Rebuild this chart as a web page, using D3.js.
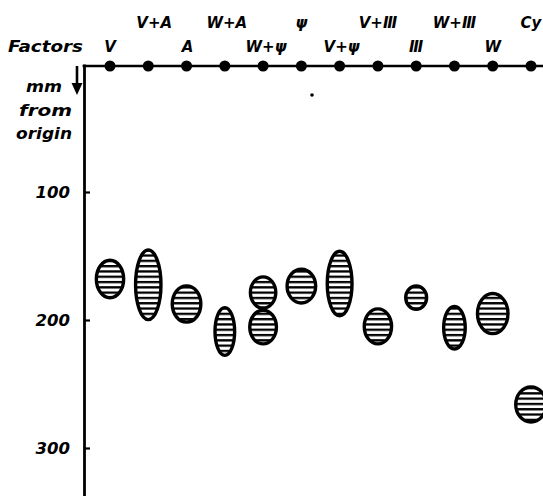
<!DOCTYPE html>
<html>
<head>
<meta charset="utf-8">
<script src="https://cdn.jsdelivr.net/npm/d3@7"></script>
<style>
  html, body { margin: 0; padding: 0; background: #fff; }
  svg { display: block; }
  text { font-family: "DejaVu Sans", sans-serif; font-weight: bold; font-style: italic; fill: #000; }
</style>
</head>
<body>
<svg id="chart" width="543" height="496"></svg>
<script>
// ---- data ----
const factors = ["V", "V+A", "A", "W+A", "W+ψ", "ψ", "V+ψ", "V+Ⅲ", "Ⅲ", "W+Ⅲ", "W", "Cy"];
const upperRow = ["V+A", "W+A", "ψ", "V+Ⅲ", "W+Ⅲ", "Cy"];
const lowerRow = ["V", "A", "W+ψ", "V+ψ", "Ⅲ", "W"];
// spots: lane, front and rear of spot (mm from origin), spot width (mm)
const spotLane  = ["V", "V+A", "A", "W+A", "W+ψ", "W+ψ", "ψ", "V+ψ", "V+Ⅲ", "Ⅲ", "W+Ⅲ", "W", "Cy"];
const spotFront = [152, 144, 172, 189, 165, 191, 159, 145, 190, 172, 188, 178, 251];
const spotRear  = [184, 201, 203, 229, 192, 220, 188, 198, 220, 193, 224, 212, 281];
const spotWidth = [24, 22.5, 25, 18, 22.5, 23.5, 25, 22, 24, 19, 19.5, 26.5, 26.5];
const yTicks = [100, 200, 300];

// ---- layout ----
const svg = d3.select("#chart");
const axisX = 84;
const y = d3.scaleLinear().domain([0, 340]).range([64, 499.2]);
const x = d3.scalePoint().domain(factors).range([110, 531]);
const labelShift = { "V+A": 6, "W+A": 2, "W+ψ": 3, "V+ψ": 2, "A": 1 };

// hatch pattern
const defs = svg.append("defs");
const pat = defs.append("pattern")
  .attr("id", "hatch").attr("patternUnits", "userSpaceOnUse")
  .attr("width", 10).attr("height", 5.3);
pat.append("rect").attr("width", 10).attr("height", 5.3).attr("fill", "#fff");
pat.append("rect").attr("y", 0).attr("width", 10).attr("height", 2.3).attr("fill", "#000");

// vertical axis
const axis = d3.axisRight(y).tickValues(yTicks).tickSize(6).tickSizeOuter(0).tickFormat("");
const gAxis = svg.append("g").attr("transform", `translate(${axisX},0)`).call(axis);
gAxis.select(".domain").attr("stroke", "#000").attr("stroke-width", 2.8);
gAxis.selectAll(".tick line").attr("stroke", "#000").attr("stroke-width", 2.2);

// tick labels
svg.selectAll(".ylab").data(yTicks).join("text")
  .attr("class", "ylab")
  .attr("x", 70).attr("y", d => y(d) + 6)
  .attr("text-anchor", "end")
  .attr("font-size", 16.5)
  .text(d => d);

// origin line
svg.append("line")
  .attr("x1", axisX - 1.4).attr("x2", 543)
  .attr("y1", y(0) + 2).attr("y2", y(0) + 2)
  .attr("stroke", "#000").attr("stroke-width", 2.4);
svg.selectAll(".dot").data(factors).join("circle")
  .attr("class", "dot")
  .attr("cx", d => x(d)).attr("cy", y(0) + 2).attr("r", 5.5)
  .attr("fill", "#000");

// factor labels
svg.append("text").attr("x", 8).attr("y", 52).attr("font-size", 16)
  .attr("textLength", 75).attr("lengthAdjust", "spacingAndGlyphs").text("Factors");
svg.selectAll(".up").data(upperRow).join("text")
  .attr("class", "up")
  .attr("x", d => x(d) + (labelShift[d] || 0)).attr("y", 28)
  .attr("text-anchor", "middle").attr("font-size", 15)
  .text(d => d);
svg.selectAll(".lo").data(lowerRow).join("text")
  .attr("class", "lo")
  .attr("x", d => x(d) + (labelShift[d] || 0)).attr("y", 52)
  .attr("text-anchor", "middle").attr("font-size", 15)
  .text(d => d);

// "mm from origin" + arrow
[["mm", 26, 92, 36], ["from", 19, 116, 53], ["origin", 16, 139, 56]].forEach(([t, xx, yy, w]) => {
  svg.append("text").attr("x", xx).attr("y", yy)
    .attr("font-size", 15.5)
    .attr("textLength", w).attr("lengthAdjust", "spacingAndGlyphs").text(t);
});
svg.append("line").attr("x1", 77).attr("x2", 77).attr("y1", 66).attr("y2", 86)
  .attr("stroke", "#000").attr("stroke-width", 2.6);
svg.append("path").attr("d", "M71.5,83 L82.5,83 L77,95 Z").attr("fill", "#000");

// spots
const spots = spotLane.map((l, i) => ({ lane: l, f: spotFront[i], r: spotRear[i], w: spotWidth[i] }));
svg.selectAll(".spot").data(spots).join("ellipse")
  .attr("class", "spot")
  .attr("cx", d => x(d.lane))
  .attr("cy", d => (y(d.f) + y(d.r)) / 2)
  .attr("rx", d => (y(d.w) - y(0)) / 2 - 1.7)
  .attr("ry", d => (y(d.r) - y(d.f)) / 2 - 1.7)
  .attr("fill", "url(#hatch)")
  .attr("stroke", "#000").attr("stroke-width", 3.4);

// small speck in the original print
svg.append("circle").attr("cx", 312).attr("cy", 95).attr("r", 1.8).attr("fill", "#000");
</script>
</body>
</html>
